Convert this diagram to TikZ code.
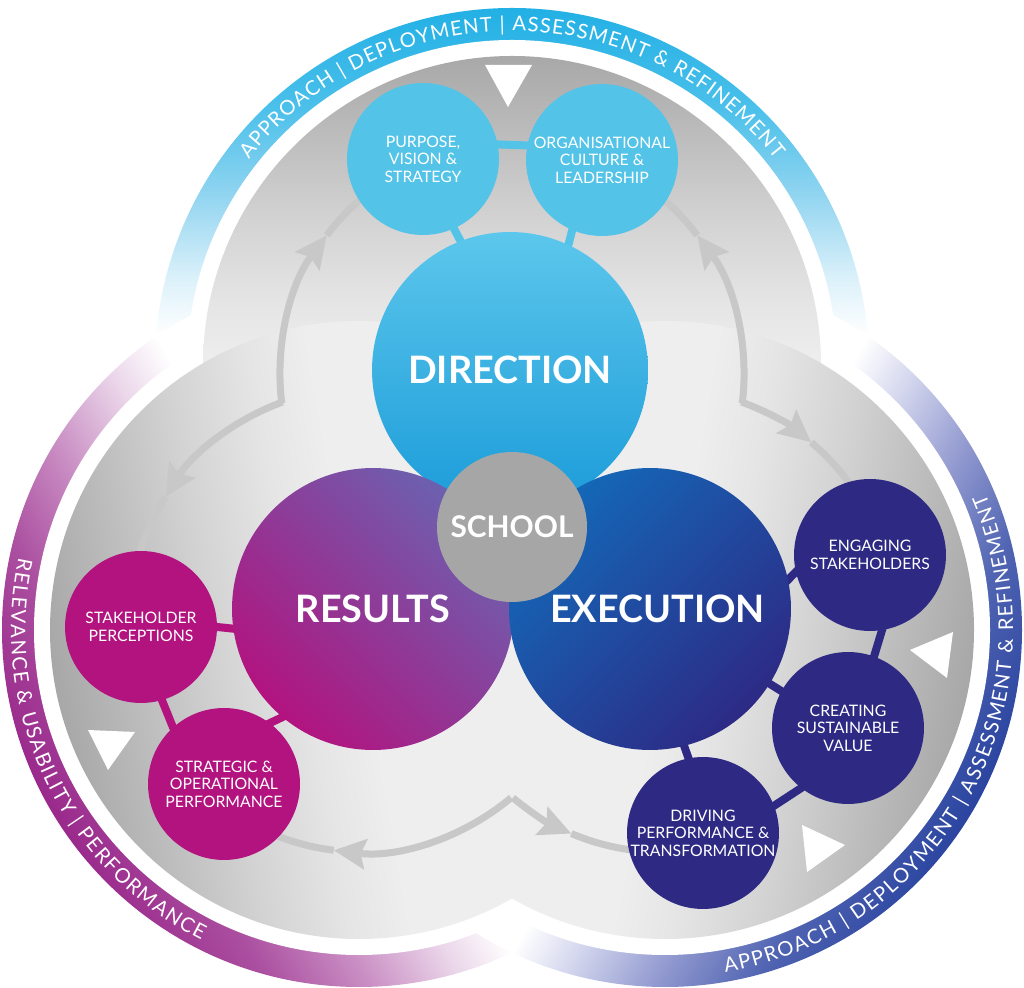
\documentclass[tikz,border=0pt]{standalone}
\usepackage{fontspec}
\setmainfont{Lato}
\usetikzlibrary{arrows.meta,decorations.text}

\definecolor{bandTa}{HTML}{DCF1FA}
\definecolor{bandTb}{HTML}{90D4F0}
\definecolor{bandTc}{HTML}{4BC0EA}
\definecolor{bandTd}{HTML}{22B0E5}
\definecolor{bandLa}{HTML}{EBD7EA}
\definecolor{bandLb}{HTML}{C98DC3}
\definecolor{bandLc}{HTML}{AB4FA0}
\definecolor{bandLd}{HTML}{9A2A8C}
\definecolor{bandRa}{HTML}{D4D7EE}
\definecolor{bandRb}{HTML}{9098CF}
\definecolor{bandRc}{HTML}{5064B2}
\definecolor{bandRd}{HTML}{2B45A0}
\definecolor{greyA}{HTML}{EEEEEE}
\definecolor{greyB}{HTML}{E5E5E5}
\definecolor{greyC}{HTML}{D2D2D2}
\definecolor{greyD}{HTML}{BBBBBB}
\definecolor{greyE}{HTML}{A8A8A8}
\definecolor{flowgrey}{HTML}{C8C8C8}
\definecolor{schoolgrey}{HTML}{A6A6A6}
\definecolor{dirA}{HTML}{5CC7EC}
\definecolor{dirB}{HTML}{2CB4E6}
\definecolor{dirC}{HTML}{1C9CD9}
\definecolor{resA}{HTML}{6B62B0}
\definecolor{resB}{HTML}{93368F}
\definecolor{resC}{HTML}{B2137F}
\definecolor{exeA}{HTML}{1468B8}
\definecolor{exeB}{HTML}{263E98}
\definecolor{exeC}{HTML}{2D2A85}
\definecolor{cyanS}{HTML}{53C3E8}
\definecolor{magS}{HTML}{B2137F}
\definecolor{indS}{HTML}{2E2A84}

\pgfdeclareverticalshading{bandT}{100bp}{color(0bp)=(white); color(52bp)=(white); color(56bp)=(bandTa); color(62bp)=(bandTb); color(68bp)=(bandTc); color(75bp)=(bandTd); color(100bp)=(bandTd)}
\pgfdeclareverticalshading{bandL}{100bp}{color(0bp)=(white); color(52bp)=(white); color(56bp)=(bandLa); color(62bp)=(bandLb); color(68bp)=(bandLc); color(75bp)=(bandLd); color(100bp)=(bandLd)}
\pgfdeclareverticalshading{bandR}{100bp}{color(0bp)=(white); color(52bp)=(white); color(56bp)=(bandRa); color(62bp)=(bandRb); color(68bp)=(bandRc); color(75bp)=(bandRd); color(100bp)=(bandRd)}
\pgfdeclareverticalshading{lobegrey}{100bp}{color(0bp)=(greyA); color(50bp)=(greyA); color(55bp)=(greyB); color(62bp)=(greyC); color(69bp)=(greyD); color(75bp)=(greyE); color(100bp)=(greyE)}

\pgfdeclarelayer{back}
\pgfdeclarelayer{links}
\pgfsetlayers{back,links,main}

\newcommand\lblbig{\fontsize{21.5}{24}\selectfont\bfseries}
\newcommand\lblschool{\fontsize{17}{20}\selectfont\bfseries}
\newcommand\lblsmall{\fontsize{9}{9.9}\selectfont}
\newcommand\lblband{\fontsize{11.5}{14}\selectfont}

\begin{document}
\begin{tikzpicture}[
  x=0.02cm, y=0.02cm,
  bigcirc/.style={circle, inner sep=0pt, minimum size=5.64cm, text=white, font=\lblbig},
  subcirc/.style={circle, inner sep=0pt, minimum size=3.04cm, text=white, align=center, font=\lblsmall},
  link/.style={line width=0.16cm, shorten <=-0.12cm, shorten >=-0.12cm},
  flow/.style={draw=flowgrey, line width=0.14cm},
  flowtip/.style={flow, -{Stealth[length=0.64cm, width=0.6cm, inset=0.1cm]}},
  bandtext/.style={decorate, decoration={text along path, text align=fit to path, text color=white, text={|\lblband|#1}}}
]
\useasboundingbox (0,0) rectangle (1024,987);

\begin{pgfonlayer}{back}
\coordinate (ltop) at (512,622);
\coordinate (lleft) at (359,357);
\coordinate (lright) at (665,357);
\coordinate (ftop) at (512,612);
\coordinate (fleft) at (362,367);
\coordinate (fright) at (662,367);

\shade[shading=bandT] (ltop) circle[radius=357];
\shade[shading=bandL, shading angle=120] (lleft) circle[radius=357];
\shade[shading=bandR, shading angle=-120] (lright) circle[radius=357];
\fill[white] (ltop) circle[radius=325] (lleft) circle[radius=325] (lright) circle[radius=325];
\shade[shading=lobegrey] (ltop) circle[radius=309];
\shade[shading=lobegrey, shading angle=100] (lleft) circle[radius=309];
\shade[shading=lobegrey, shading angle=-100] (lright) circle[radius=309];

\fill[white] (485,922) -- (532,922) -- (508,880) -- cycle;
\fill[white] (910,337) -- (953,355) -- (947,309) -- cycle;
\fill[white] (802,162) -- (845,142) -- (807,115) -- cycle;
\fill[white] (88,257) -- (135,255) -- (108,217) -- cycle;

\path[bandtext={APPROACH {\textbar} DEPLOYMENT {\textbar} ASSESSMENT {\&} REFINEMENT}]
  ([shift={(142:334)}]ltop) arc[start angle=142, end angle=38, radius=334];
\path[bandtext={APPROACH {\textbar} DEPLOYMENT {\textbar} ASSESSMENT {\&} REFINEMENT}]
  ([shift={(-80:348)}]lright) arc[start angle=-80, end angle=23, radius=348];
\path[bandtext={RELEVANCE {\&} USABILITY {\textbar} PERFORMANCE}]
  ([shift={(168:348)}]lleft) arc[start angle=168, end angle=243, radius=348];

\draw[flowtip] ([shift={(187:232)}]ftop) arc[start angle=187, end angle=143, radius=232];
\draw[flow] ([shift={(143:232)}]ftop) arc[start angle=143, end angle=126, radius=232];
\draw[flowtip] ([shift={(-7:232)}]ftop) arc[start angle=-7, end angle=37, radius=232];
\draw[flow] ([shift={(37:232)}]ftop) arc[start angle=37, end angle=54, radius=232];
\draw[flowtip] ([shift={(110:232)}]fleft) arc[start angle=110, end angle=148, radius=232];
\draw[flow] ([shift={(148:232)}]fleft) arc[start angle=148, end angle=166, radius=232];
\draw[flowtip] ([shift={(-50:232)}]fleft) arc[start angle=-50, end angle=-97, radius=232];
\draw[flow] ([shift={(-97:232)}]fleft) arc[start angle=-97, end angle=-114, radius=232];
\draw[flowtip] ([shift={(230:232)}]fright) arc[start angle=230, end angle=247, radius=232];
\draw[flow] ([shift={(247:232)}]fright) arc[start angle=247, end angle=264, radius=232];
\draw[flowtip] ([shift={(70:232)}]fright) arc[start angle=70, end angle=50, radius=232];
\draw[flow] ([shift={(50:232)}]fright) arc[start angle=50, end angle=34, radius=232];
\end{pgfonlayer}

\node[bigcirc, minimum size=5.52cm, shade, top color=dirA, middle color=dirB, bottom color=dirC] (direction) at (510,617) {DIRECTION};
\node[bigcirc, shade, top color=resA, middle color=resB, bottom color=resC, shading angle=-45] (results) at (373,378) {RESULTS};
\node[bigcirc, shade, top color=exeA, middle color=exeB, bottom color=exeC, shading angle=45] (execution) at (650,378) {\hspace{0.3cm}EXECUTION};
\node[circle, fill=schoolgrey, minimum size=3cm, inner sep=0pt, text=white, font=\lblschool] (school) at (512,460) {SCHOOL};

\node[subcirc, fill=cyanS] (purpose) at (423,828) {PURPOSE,\\VISION \&\\STRATEGY};
\node[subcirc, fill=cyanS] (culture) at (602,827) {ORGANISATIONAL\\CULTURE \&\\LEADERSHIP};
\node[subcirc, fill=magS] (perceptions) at (141,360) {STAKEHOLDER\\PERCEPTIONS};
\node[subcirc, fill=magS] (strategic) at (224,203) {STRATEGIC \&\\OPERATIONAL\\PERFORMANCE};
\node[subcirc, fill=indS] (engaging) at (870,432) {ENGAGING\\STAKEHOLDERS};
\node[subcirc, fill=indS] (creating) at (848,259) {CREATING\\SUSTAINABLE\\VALUE};
\node[subcirc, fill=indS] (driving) at (703,154) {DRIVING\\PERFORMANCE \&\\TRANSFORMATION};

\begin{pgfonlayer}{links}
\draw[link, cyanS] (purpose.11) -- (culture.169);
\draw[link, cyanS] (purpose.-66) -- (direction.111);
\draw[link, cyanS] (culture.-113) -- (direction.65);
\draw[link, magS] (perceptions.0) -- (results.188);
\draw[link, magS] (perceptions.-74) -- (strategic.132);
\draw[link, magS] (results.230) -- (strategic.53);
\draw[link, indS] (execution.12) -- (engaging.193);
\draw[link, indS] (engaging.-81) -- (creating.70);
\draw[link, indS] (execution.-32) -- (creating.151);
\draw[link, indS] (execution.-76) -- (driving.101);
\draw[link, indS] (creating.232) -- (driving.21);
\end{pgfonlayer}
\end{tikzpicture}
\end{document}
